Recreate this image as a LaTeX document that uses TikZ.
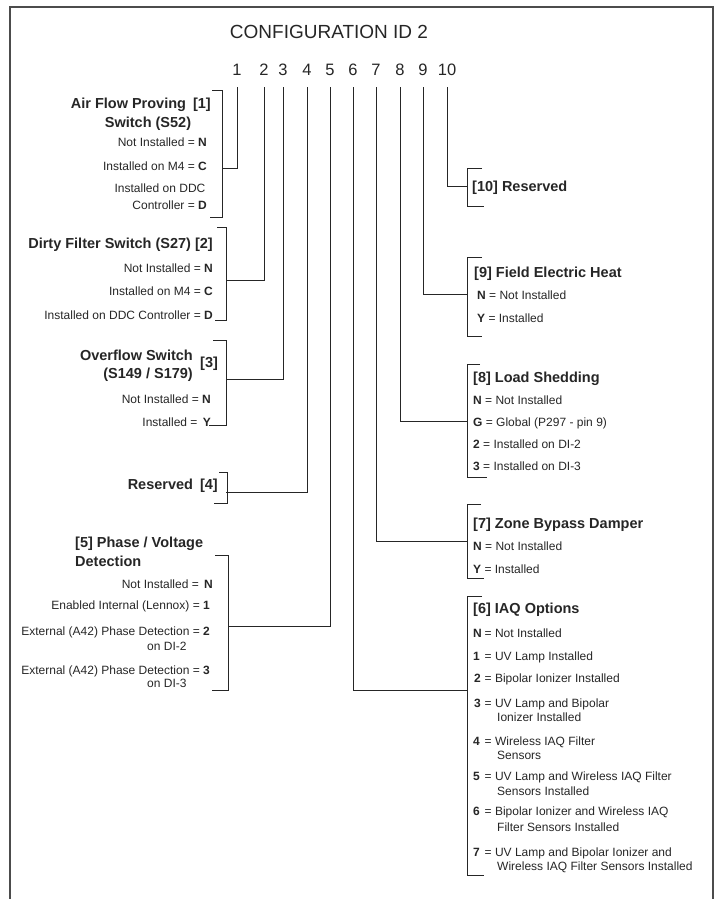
\documentclass[tikz,border=0pt]{standalone}
\usepackage{fontspec}
\setmainfont{Liberation Sans}
\begin{document}
\begin{tikzpicture}[x=1pt,y=-1pt,
  txt/.style={inner sep=0pt, font=\fontsize{12}{14}\selectfont, text=black!85},
  hd/.style={inner sep=0pt, font=\fontsize{14.5}{17}\selectfont\bfseries, text=black!85},
  dig/.style={inner sep=0pt, font=\fontsize{16.5}{18}\selectfont, text=black!85, anchor=base},
  ln/.style={line width=1pt, draw=black!85},
  frm/.style={line width=1.4pt, draw=black!70}]
\useasboundingbox (0,0) rectangle (717,899);
% frame
\draw[frm] (10,899) -- (10,7) -- (713,7) -- (713,899);
% title
\node[inner sep=0pt, anchor=base, font=\fontsize{19}{22}\selectfont, text=black!85] (title) at (329,38) {CONFIGURATION ID 2};
% digits
\node[dig] (d1) at (237,75) {1};
\node[dig] (d2) at (264,75) {2};
\node[dig] (d3) at (283,75) {3};
\node[dig] (d4) at (307,75) {4};
\node[dig] (d5) at (330,75) {5};
\node[dig] (d6) at (353,75) {6};
\node[dig] (d7) at (376,75) {7};
\node[dig] (d8) at (400,75) {8};
\node[dig] (d9) at (423,75) {9};
\node[dig] (d10) at (447,75) {10};
% line tops
\coordinate (t1) at (237,87);
\coordinate (t2) at (264,87);
\coordinate (t3) at (283,87);
\coordinate (t4) at (307,87);
\coordinate (t5) at (330,87);
\coordinate (t6) at (353,87);
\coordinate (t7) at (376,87);
\coordinate (t8) at (400,87);
\coordinate (t9) at (423,87);
\coordinate (t10) at (447,87);
% junctions on brackets
\coordinate (j1) at (222,168);
\coordinate (j2) at (226,280);
\coordinate (j3) at (226,379);
\coordinate (j4) at (226,492);
\coordinate (j5) at (228,626);
\coordinate (j6) at (467,690);
\coordinate (j7) at (467,541);
\coordinate (j8) at (467,421);
\coordinate (j9) at (467,294);
\coordinate (j10) at (467,186);
% connectors
\draw[ln] (t1) |- (j1);
\draw[ln] (t2) |- (j2);
\draw[ln] (t3) |- (j3);
\draw[ln] (t4) |- (j4);
\draw[ln] (t5) |- (j5);
\draw[ln] (t6) |- (j6);
\draw[ln] (t7) |- (j7);
\draw[ln] (t8) |- (j8);
\draw[ln] (t9) |- (j9);
\draw[ln] (t10) |- (j10);
% left brackets
\draw[ln] (212,90) -| (222,217) -- (210,217);
\draw[ln] (217,227) -| (226,320) -- (215,320);
\draw[ln] (213,340) -| (226,425) -- (209,425);
\draw[ln] (219,472) -| (227,503) -- (214,503);
\draw[ln] (215,555) -| (228,690) -- (212,690);
% right brackets
\draw[ln] (482,168) -| (467,206) -- (484,206);
\draw[ln] (482,257) -| (467,336) -- (482,336);
\draw[ln] (480,364) -| (467,477) -- (487,477);
\draw[ln] (481,504) -| (467,578) -- (484,578);
\draw[ln] (482,596) -| (467,875) -- (484,875);
% block 1
\node[hd, anchor=base east] (b1h1) at (211,108) {Air Flow Proving\hspace{3pt} [1]};
\node[hd, anchor=base] (b1h2) at (148,127) {Switch (S52)};
\node[txt, anchor=base east] (b1a) at (207,146) {Not Installed = \textbf{N}};
\node[txt, anchor=base east] (b1b) at (207,170) {Installed on M4 = \textbf{C}};
\node[txt, anchor=base] (b1c) at (160,192) {Installed on DDC};
\node[txt, anchor=base east] (b1d) at (207,209) {Controller = \textbf{D}};
% block 2
\node[hd, anchor=base east] (b2h) at (213,248) {Dirty Filter Switch (S27) [2]};
\node[txt, anchor=base east] (b2a) at (213,272) {Not Installed = \textbf{N}};
\node[txt, anchor=base east] (b2b) at (213,295) {Installed on M4 = \textbf{C}};
\node[txt, anchor=base east] (b2c) at (213,319) {Installed on DDC Controller = \textbf{D}};
% block 3
\node[hd, anchor=base east] (b3h1) at (193,360) {Overflow Switch};
\node[hd, anchor=base west] (b3n) at (200,367) {[3]};
\node[hd, anchor=base east] (b3h2) at (193,378) {(S149 / S179)};
\node[txt, anchor=base east] (b3a) at (211,403) {Not Installed = \textbf{N}};
\node[txt, anchor=base east] (b3b) at (211,426) {Installed = \hspace{2pt}\textbf{Y}};
% block 4
\node[hd, anchor=base east] (b4h) at (218,489) {Reserved\hspace{3pt} [4]};
% block 5
\node[hd, anchor=base west] (b5h1) at (75,547) {[5] Phase / Voltage};
\node[hd, anchor=base west] (b5h2) at (75,566) {Detection};
\node[txt, anchor=base east] (b5a) at (213,588) {Not Installed = \hspace{2pt}\textbf{N}};
\node[txt, anchor=base east] (b5b) at (210,609) {Enabled Internal (Lennox) = \textbf{1}};
\node[txt, anchor=base east] (b5c) at (210,635) {External (A42) Phase Detection = \textbf{2}};
\node[txt, anchor=base west] (b5c2) at (147,650) {on DI-2};
\node[txt, anchor=base east] (b5d) at (210,674) {External (A42) Phase Detection = \textbf{3}};
\node[txt, anchor=base west] (b5d2) at (147,687) {on DI-3};
% block 10
\node[hd, anchor=base west] (b10h) at (472,191) {[10] Reserved};
% block 9
\node[hd, anchor=base west] (b9h) at (474,277) {[9] Field Electric Heat};
\node[txt, anchor=base west] (b9a) at (477,299) {\textbf{N} = Not Installed};
\node[txt, anchor=base west] (b9b) at (477,322) {\textbf{Y} = Installed};
% block 8
\node[hd, anchor=base west] (b8h) at (473,382) {[8] Load Shedding};
\node[txt, anchor=base west] (b8a) at (473,404) {\textbf{N} = Not Installed};
\node[txt, anchor=base west] (b8b) at (473,426) {\textbf{G} = Global (P297 - pin 9)};
\node[txt, anchor=base west] (b8c) at (473,448) {\textbf{2} = Installed on DI-2};
\node[txt, anchor=base west] (b8d) at (473,470) {\textbf{3} = Installed on DI-3};
% block 7
\node[hd, anchor=base west] (b7h) at (473,528) {[7] Zone Bypass Damper};
\node[txt, anchor=base west] (b7a) at (473,550) {\textbf{N} = Not Installed};
\node[txt, anchor=base west] (b7b) at (473,573) {\textbf{Y} = Installed};
% block 6
\node[hd, anchor=base west] (b6h) at (473,613) {[6] IAQ Options};
\node[txt, anchor=base west] (b6n) at (473,637) {\makebox[11.5pt][l]{\textbf{N}}= Not Installed};
\node[txt, anchor=base west] (b61) at (473,660) {\makebox[11.5pt][l]{\textbf{1}}= UV Lamp Installed};
\node[txt, anchor=base west] (b62) at (474,682) {\makebox[10.5pt][l]{\textbf{2}}= Bipolar Ionizer Installed};
\node[txt, anchor=base west] (b63) at (474,707) {\makebox[10.5pt][l]{\textbf{3}}= UV Lamp and Bipolar};
\node[txt, anchor=base west] (b63b) at (497,721) {Ionizer Installed};
\node[txt, anchor=base west] (b64) at (473,745) {\makebox[11.5pt][l]{\textbf{4}}= Wireless IAQ Filter};
\node[txt, anchor=base west] (b64b) at (497,759) {Sensors};
\node[txt, anchor=base west] (b65) at (473,780) {\makebox[11.5pt][l]{\textbf{5}}= UV Lamp and Wireless IAQ Filter};
\node[txt, anchor=base west] (b65b) at (497,795) {Sensors Installed};
\node[txt, anchor=base west] (b66) at (473,815) {\makebox[11.5pt][l]{\textbf{6}}= Bipolar Ionizer and Wireless IAQ};
\node[txt, anchor=base west] (b66b) at (497,831) {Filter Sensors Installed};
\node[txt, anchor=base west] (b67) at (473,856) {\makebox[11.5pt][l]{\textbf{7}}= UV Lamp and Bipolar Ionizer and};
\node[txt, anchor=base west] (b67b) at (497,870) {Wireless IAQ Filter Sensors Installed};
\end{tikzpicture}
\end{document}
